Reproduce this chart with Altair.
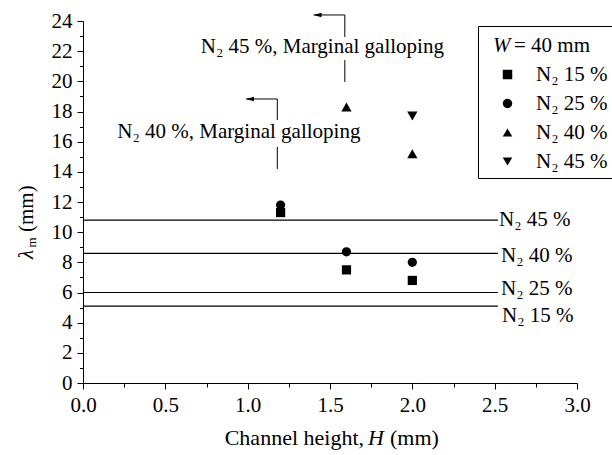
import altair as alt
import pandas as pd

# ---- data -----------------------------------------------------------------
SERIES = ["N₂ 15 %", "N₂ 25 %", "N₂ 40 %", "N₂ 45 %"]
SHAPES = ["square", "circle", "triangle-up", "triangle-down"]

H_15 = [1.2, 1.6, 2.0]
LAMBDA_15 = [11.3, 7.5, 6.8]
H_25 = [1.2, 1.6, 2.0]
LAMBDA_25 = [11.8, 8.7, 8.0]
H_40 = [1.6, 2.0]
LAMBDA_40 = [18.3, 15.2]
H_45 = [2.0]
LAMBDA_45 = [17.7]

# critical wavelengths drawn as horizontal reference lines
REF_LABELS = ["N₂ 45 %", "N₂ 40 %", "N₂ 25 %", "N₂ 15 %"]
REF_VALUES = [10.8, 8.6, 6.0, 5.1]
REF_END = 2.52

# marginal galloping call-outs
NOTE_TEXT = ["N₂ 45 %, Marginal galloping", "N₂ 40 %, Marginal galloping"]
NOTE_TEXT_X = [0.715, 0.208]
NOTE_TEXT_Y = [21.86, 16.22]
NOTE_LINE_X = [1.59, 1.18]
NOTE_ARROW_X = [1.40, 0.99]
NOTE_TOP = [24.4, 18.83]
NOTE_GAP_TOP = [22.94, 17.44]
NOTE_GAP_BOTTOM = [21.41, 15.65]
NOTE_BOTTOM = [19.96, 14.19]

X_TICKS = [i * 0.25 for i in range(13)]
Y_TICKS = list(range(0, 25))

# ---- layout ---------------------------------------------------------------
FONT = "Liberation Serif"
FS = 21
W, H = 494, 362
PAD_L, PAD_T = 83, 21

points = pd.DataFrame({
    "H": H_15 + H_25 + H_40 + H_45,
    "lam": LAMBDA_15 + LAMBDA_25 + LAMBDA_40 + LAMBDA_45,
    "series": [SERIES[0]] * len(H_15) + [SERIES[1]] * len(H_25)
    + [SERIES[2]] * len(H_40) + [SERIES[3]] * len(H_45),
})

x_scale = alt.Scale(domain=[0, 3], nice=False)
y_scale = alt.Scale(domain=[0, 24], nice=False)

x_axis = alt.Axis(
    values=X_TICKS, title=None,
    labelExpr="datum.value % 0.5 === 0 ? format(datum.value, '.1f') : ''",
    tickSize={"condition": {"test": "datum.value % 0.5 === 0", "value": 6}, "value": 4},
    labelPadding=5, labelFlush=False, labelOverlap=False, grid=False,
)
y_axis = alt.Axis(
    values=Y_TICKS, title=None,
    labelExpr="datum.value % 2 === 0 ? format(datum.value, 'd') : ''",
    tickSize={"condition": {"test": "datum.value % 2 === 0", "value": 6}, "value": 3.5},
    labelPadding=5, labelFlush=False, labelOverlap=False, grid=False,
)


def X(field):
    return alt.X(field, type="quantitative", scale=x_scale, axis=x_axis)


def Y(field):
    return alt.Y(field, type="quantitative", scale=y_scale, axis=y_axis)


legend = alt.Legend(
    orient="none", legendX=395, legendY=5,
    title="\u00a0", titleFontSize=FS, titlePadding=11, titleAnchor="middle",
    strokeColor="black", padding=6,
    labelFont=FONT, labelFontSize=FS, labelColor="black",
    symbolSize=90, symbolFillColor="black", symbolStrokeWidth=0,
    symbolOffset=13, labelOffset=18, rowPadding=7,
)
shape_enc = alt.Shape("series:N", scale=alt.Scale(domain=SERIES, range=SHAPES),
                      legend=legend, sort=SERIES)

# squares and circles, then the slightly larger triangles
pts_round = alt.Chart(points[points.series.isin(SERIES[:2])]).mark_point(
    filled=True, color="black", opacity=1, size=85
).encode(x=X("H"), y=Y("lam"), shape=shape_enc)
pts_tri = alt.Chart(points[points.series.isin(SERIES[2:])]).mark_point(
    filled=True, color="black", opacity=1, size=105
).encode(x=X("H"), y=Y("lam"), shape=shape_enc)

refs = pd.DataFrame({"label": REF_LABELS, "lam": REF_VALUES,
                     "x0": [0.0] * 4, "x1": [REF_END] * 4})
ref_lines = alt.Chart(refs).mark_rule(color="black", strokeWidth=1.2).encode(
    x=X("x0"), x2="x1:Q", y=Y("lam"))

ref_dy = {"N₂ 45 %": 6, "N₂ 40 %": 8.5, "N₂ 25 %": 2.5, "N₂ 15 %": 15.5}
ref_dx = {"N₂ 45 %": 1, "N₂ 40 %": 3, "N₂ 25 %": 3, "N₂ 15 %": 4}
ref_texts = [
    alt.Chart(refs[refs.label == lab]).mark_text(
        font=FONT, fontSize=FS, color="black", align="left", baseline="alphabetic",
        dx=ref_dx[lab], dy=ref_dy[lab]).encode(x=X("x1"), y=Y("lam"), text="label:N")
    for lab in REF_LABELS
]

notes = pd.DataFrame({
    "text": NOTE_TEXT, "tx": NOTE_TEXT_X, "ty": NOTE_TEXT_Y,
    "lx": NOTE_LINE_X, "ax": NOTE_ARROW_X,
    "top": NOTE_TOP, "gt": NOTE_GAP_TOP, "gb": NOTE_GAP_BOTTOM, "bot": NOTE_BOTTOM,
})
note_upper = alt.Chart(notes).mark_rule(color="black", strokeWidth=1).encode(
    x=X("lx"), y=Y("top"), y2="gt:Q")
note_lower = alt.Chart(notes).mark_rule(color="black", strokeWidth=1).encode(
    x=X("lx"), y=Y("gb"), y2="bot:Q")
note_arm = alt.Chart(notes).mark_rule(color="black", strokeWidth=1).encode(
    x=X("ax"), x2="lx:Q", y=Y("top"))
note_head = alt.Chart(notes).mark_point(
    shape="M 0 0 L 2 -0.55 L 2 0.55 Z", size=64, filled=True, color="black", opacity=1
).encode(x=X("ax"), y=Y("top"))
note_text = alt.Chart(notes).mark_text(
    font=FONT, fontSize=FS, color="black", align="left", baseline="alphabetic"
).encode(x=X("tx"), y=Y("ty"), text="text:N")


# axis titles with italic symbols, built from separate text pieces
def label(txt, x, y, **kw):
    return alt.Chart(pd.DataFrame({"t": [txt]})).mark_text(
        font=FONT, color="black", baseline="alphabetic", **kw
    ).encode(x=alt.value(x - PAD_L), y=alt.value(y - PAD_T), text="t:N")


x_title = [
    label("Channel height,", 364, 445, fontSize=22, align="right"),
    label("H", 368, 445, fontSize=22, align="left", fontStyle="italic"),
    label("(mm)", 390, 445, fontSize=22, align="left"),
]
y_title = [
    label("λ", 33, 259, fontSize=FS, align="left", angle=270, fontStyle="italic"),
    label("m", 36, 247.5, fontSize=13, align="left", angle=270),
    label("(mm)", 33, 232, fontSize=FS, align="left", angle=270),
]
legend_title = [
    label("W", 493, 52.3, fontSize=FS, align="left", fontStyle="italic"),
    label("= 40 mm", 514, 52.3, fontSize=FS, align="left"),
]

chart = alt.layer(
    ref_lines, *ref_texts, note_upper, note_lower, note_arm, note_head, note_text,
    pts_round, pts_tri, *x_title, *y_title, *legend_title,
).properties(
    width=W, height=H,
    autosize=alt.AutoSizeParams(type="none"),
    padding={"left": PAD_L, "top": PAD_T, "right": 612 - PAD_L - W, "bottom": 455 - PAD_T - H},
).configure_view(stroke=None).configure_axis(
    labelFont=FONT, labelFontSize=FS, labelColor="black",
    domainColor="black", tickColor="black", domainWidth=1, tickWidth=1,
).configure_legend(titleFont=FONT)

chart.save("out.html", embed_options={"renderer": "svg", "actions": False})
